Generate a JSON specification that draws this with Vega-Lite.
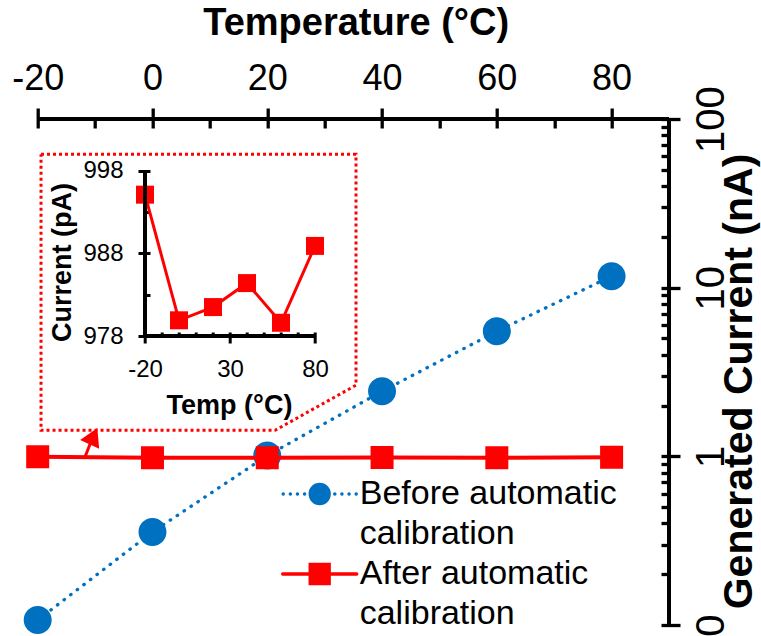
{
  "$schema": "https://vega.github.io/schema/vega-lite/v6.json",
  "width": 631.3,
  "height": 506,
  "autosize": "none",
  "padding": {"left": 37.7, "top": 119, "right": 92, "bottom": 11},
  "background": "white",
  "config": {
    "view": {"stroke": null},
    "font": "Liberation Sans",
    "axis": {"labelColor": "black", "titleColor": "black", "tickColor": "black", "labelFont": "Liberation Sans", "titleFont": "Liberation Sans", "grid": false, "labelOverlap": false, "labelFlush": false}
  },
  "datasets": {
    "main": [
      {"t": -20, "series": "Before automatic calibration", "current": 0.107},
      {"t": 0, "series": "Before automatic calibration", "current": 0.356},
      {"t": 20, "series": "Before automatic calibration", "current": 1.01},
      {"t": 40, "series": "Before automatic calibration", "current": 2.43},
      {"t": 60, "series": "Before automatic calibration", "current": 5.51},
      {"t": 80, "series": "Before automatic calibration", "current": 11.7},
      {"t": -20, "series": "After automatic calibration", "current": 0.9951},
      {"t": 0, "series": "After automatic calibration", "current": 0.9799},
      {"t": 20, "series": "After automatic calibration", "current": 0.9815},
      {"t": 40, "series": "After automatic calibration", "current": 0.9844},
      {"t": 60, "series": "After automatic calibration", "current": 0.9796},
      {"t": 80, "series": "After automatic calibration", "current": 0.9889}
    ],
    "inset": [
      {"t": -20, "pA": 995.1},
      {"t": 0, "pA": 979.9},
      {"t": 20, "pA": 981.5},
      {"t": 40, "pA": 984.4},
      {"t": 60, "pA": 979.6},
      {"t": 80, "pA": 988.9}
    ],
    "box": [
      {"i": 0, "t": -19.42, "current": 61.7},
      {"i": 1, "t": 35.46, "current": 61.7},
      {"i": 2, "t": 35.46, "current": 2.64},
      {"i": 3, "t": 21.35, "current": 1.426},
      {"i": 4, "t": -19.42, "current": 1.426},
      {"i": 5, "t": -19.42, "current": 61.7}
    ],
    "one": [{"n": 1}]
  },
  "layer": [
    {
      "data": {"name": "main"},
      "layer": [
        {
          "transform": [{"filter": "datum.series == 'Before automatic calibration'"}],
          "mark": {"type": "line", "color": "#0070C0", "strokeWidth": 3.3, "strokeDash": [0.5, 7.8], "strokeCap": "round"},
          "encoding": {
            "x": {"field": "t", "type": "quantitative", "scale": {"domain": [-20, 90], "nice": false, "zero": false},
              "axis": {
                "orient": "top", "title": "Temperature (°C)",
                "values": [-20, -10, 0, 10, 20, 30, 40, 50, 60, 70, 80],
                "offset": -9, "domain": false,
                "labelExpr": "datum.value % 20 == 0 ? '' + datum.value : ''",
                "tickSize": {"condition": {"test": "datum.value % 20 == 0", "value": 20}, "value": 9},
                "tickWidth": 3.3,
                "labelFontSize": 36, "labelBaseline": "middle", "labelPadding": 30,
                "titleFontSize": 38, "titleFontWeight": "bold", "titleX": 318, "titleY": -105, "titleBaseline": "middle", "titleAlign": "center"
              }
            },
            "y": {"field": "current", "type": "quantitative", "scale": {"type": "log", "domain": [0.1, 100], "nice": false},
              "axis": {
                "orient": "right", "title": "Generated Current (nA)",
                "values": [0.1, 0.2, 0.3, 0.4, 0.5, 0.6, 0.7, 0.8, 0.9, 1, 2, 3, 4, 5, 6, 7, 8, 9, 10, 20, 30, 40, 50, 60, 70, 80, 90, 100],
                "offset": -8, "domain": false,
                "labelExpr": "datum.value == 0.1 ? '0' : (indexof([1, 10, 100], datum.value) >= 0 ? '' + datum.value : '')",
                "tickSize": {"condition": {"test": "indexof([0.1, 1, 10, 100], datum.value) >= 0", "value": 19}, "value": 8},
                "tickWidth": 3.3,
                "labelFontSize": 40, "labelAngle": 270, "labelAlign": "center", "labelBaseline": "middle", "labelPadding": 31,
                "titleFontSize": 41, "titleFontWeight": "bold", "titleAngle": 270, "titleX": 78, "titleY": 262, "titleBaseline": "middle", "titleAlign": "center"
              }
            }
          }
        },
        {
          "transform": [{"filter": "datum.series == 'Before automatic calibration'"}],
          "mark": {"type": "point", "filled": true, "opacity": 1, "size": 784},
          "encoding": {
            "x": {"field": "t", "type": "quantitative"},
            "y": {"field": "current", "type": "quantitative"},
            "color": {"field": "series", "type": "nominal",
              "scale": {"domain": ["Before automatic calibration", "After automatic calibration"], "range": ["#0070C0", "#FF0000"]},
              "legend": {
                "orient": "none", "legendX": 265, "legendY": 358, "title": null, "padding": 0,
                "symbolSize": 361, "symbolStrokeWidth": 3.3, "symbolOpacity": 1,
                "labelFontSize": 34, "labelFont": "Liberation Sans", "labelColor": "black", "labelLimit": 0, "labelOffset": 23, "labelBaseline": "middle",
                "rowPadding": 6,
                "labelExpr": "datum.value == 'Before automatic calibration' ? ['Before automatic', 'calibration'] : ['After automatic', 'calibration']",
                "encode": {
                  "symbols": {"update": {"stroke": {"scale": "color", "field": "value"}, "strokeCap": {"value": "round"}, "strokeWidth": {"value": 3.3}}},
                  "labels": {"update": {"lineHeight": {"value": 40}}}
                }
              }
            },
            "shape": {"field": "series", "type": "nominal",
              "scale": {"domain": ["Before automatic calibration", "After automatic calibration"],
                "range": ["M-3.85,0h0.02M-3.1,0h0.02M-2.35,0h0.02M-1.6,0h0.02M1.58,0h0.02M2.33,0h0.02M3.08,0h0.02M3.83,0h0.02M1,0A1,1,0,1,1,-1,0A1,1,0,1,1,1,0Z", "M-3.9,0H-1M1,0H3.9M-1,-1H1V1H-1Z"]}}
          }
        },
        {
          "transform": [{"filter": "datum.series == 'After automatic calibration'"}],
          "mark": {"type": "line", "color": "#FF0000", "strokeWidth": 4},
          "encoding": {
            "x": {"field": "t", "type": "quantitative"},
            "y": {"field": "current", "type": "quantitative"}
          }
        },
        {
          "transform": [{"filter": "datum.series == 'After automatic calibration'"}],
          "mark": {"type": "point", "filled": true, "opacity": 1, "size": 529},
          "encoding": {
            "x": {"field": "t", "type": "quantitative"},
            "y": {"field": "current", "type": "quantitative"},
            "color": {"field": "series", "type": "nominal"},
            "shape": {"field": "series", "type": "nominal"}
          }
        },
        {
          "data": {"name": "box"},
          "mark": {"type": "line", "color": "#FF0000", "strokeWidth": 3, "strokeDash": [3, 3]},
          "encoding": {
            "x": {"field": "t", "type": "quantitative"},
            "y": {"field": "current", "type": "quantitative"},
            "order": {"field": "i", "type": "quantitative"}
          }
        },
        {
          "data": {"name": "one"},
          "mark": {"type": "rule", "color": "#FF0000", "strokeWidth": 3},
          "encoding": {
            "x": {"datum": -11.76, "type": "quantitative"},
            "x2": {"datum": -10.6},
            "y": {"datum": 0.99, "type": "quantitative"},
            "y2": {"datum": 1.25}
          }
        },
        {
          "data": {"name": "one"},
          "mark": {"type": "point", "shape": "triangle-up", "filled": true, "opacity": 1, "color": "#FF0000", "size": 441, "angle": 25},
          "encoding": {
            "x": {"datum": -10.28, "type": "quantitative"},
            "y": {"datum": 1.317, "type": "quantitative"}
          }
        },
        {
          "data": {"name": "one"},
          "mark": {"type": "rule", "color": "black", "strokeWidth": 4},
          "encoding": {
            "x": {"datum": -20, "type": "quantitative"},
            "x2": {"datum": 90},
            "y": {"datum": 100, "type": "quantitative"}
          }
        },
        {
          "data": {"name": "one"},
          "mark": {"type": "rule", "color": "black", "strokeWidth": 4},
          "encoding": {
            "x": {"datum": 90, "type": "quantitative"},
            "y": {"datum": 0.1, "type": "quantitative"},
            "y2": {"datum": 100}
          }
        }
      ]
    },
    {
      "data": {"name": "inset"},
      "layer": [
        {
          "mark": {"type": "line", "color": "#FF0000", "strokeWidth": 3},
          "encoding": {
            "x": {"field": "t", "type": "quantitative", "scale": {"domain": [-20, 80], "nice": false, "zero": false, "range": [107.3, 277.3]},
              "axis": {
                "orient": "bottom", "title": "Temp (°C)",
                "values": [-20, -10, 0, 10, 20, 30, 40, 50, 60, 70, 80],
                "offset": -293, "domain": false,
                "labelExpr": "(datum.value + 20) % 50 == 0 ? '' + datum.value : ''",
                "tickSize": {"condition": {"test": "(datum.value + 20) % 50 == 0", "value": 11}, "value": 4},
                "tickWidth": 3,
                "labelFontSize": 24, "labelBaseline": "middle", "labelPadding": 26,
                "titleFontSize": 27, "titleFontWeight": "bold", "titleX": 191.3, "titleY": 73, "titleBaseline": "middle", "titleAlign": "center"
              }
            },
            "y": {"field": "pA", "type": "quantitative", "scale": {"domain": [978, 998], "nice": false, "zero": false, "range": [217, 51.7]},
              "axis": {
                "orient": "left", "title": "Current (pA)",
                "values": [978, 983, 988, 993, 998],
                "offset": -112.3, "domain": false,
                "labelExpr": "(datum.value - 978) % 10 == 0 ? '' + datum.value : ''",
                "tickSize": {"condition": {"test": "(datum.value - 978) % 10 == 0", "value": 12}, "value": 5},
                "tickWidth": 3,
                "labelFontSize": 24, "labelBaseline": "middle", "labelAlign": "right", "labelPadding": 15,
                "titleFontSize": 27, "titleFontWeight": "bold", "titleAngle": 270, "titleX": -88, "titleY": 143, "titleBaseline": "middle", "titleAlign": "center"
              }
            }
          }
        },
        {
          "mark": {"type": "square", "color": "#FF0000", "filled": true, "opacity": 1, "size": 324},
          "encoding": {
            "x": {"field": "t", "type": "quantitative"},
            "y": {"field": "pA", "type": "quantitative"}
          }
        },
        {
          "data": {"name": "one"},
          "mark": {"type": "rule", "color": "black", "strokeWidth": 4},
          "encoding": {
            "x": {"datum": -20, "type": "quantitative"},
            "x2": {"datum": 80},
            "y": {"datum": 978, "type": "quantitative"}
          }
        },
        {
          "data": {"name": "one"},
          "mark": {"type": "rule", "color": "black", "strokeWidth": 4},
          "encoding": {
            "x": {"datum": -20, "type": "quantitative"},
            "y": {"datum": 978, "type": "quantitative"},
            "y2": {"datum": 998}
          }
        }
      ]
    }
  ],
  "resolve": {"scale": {"x": "independent", "y": "independent"}, "axis": {"x": "independent", "y": "independent"}}
}
